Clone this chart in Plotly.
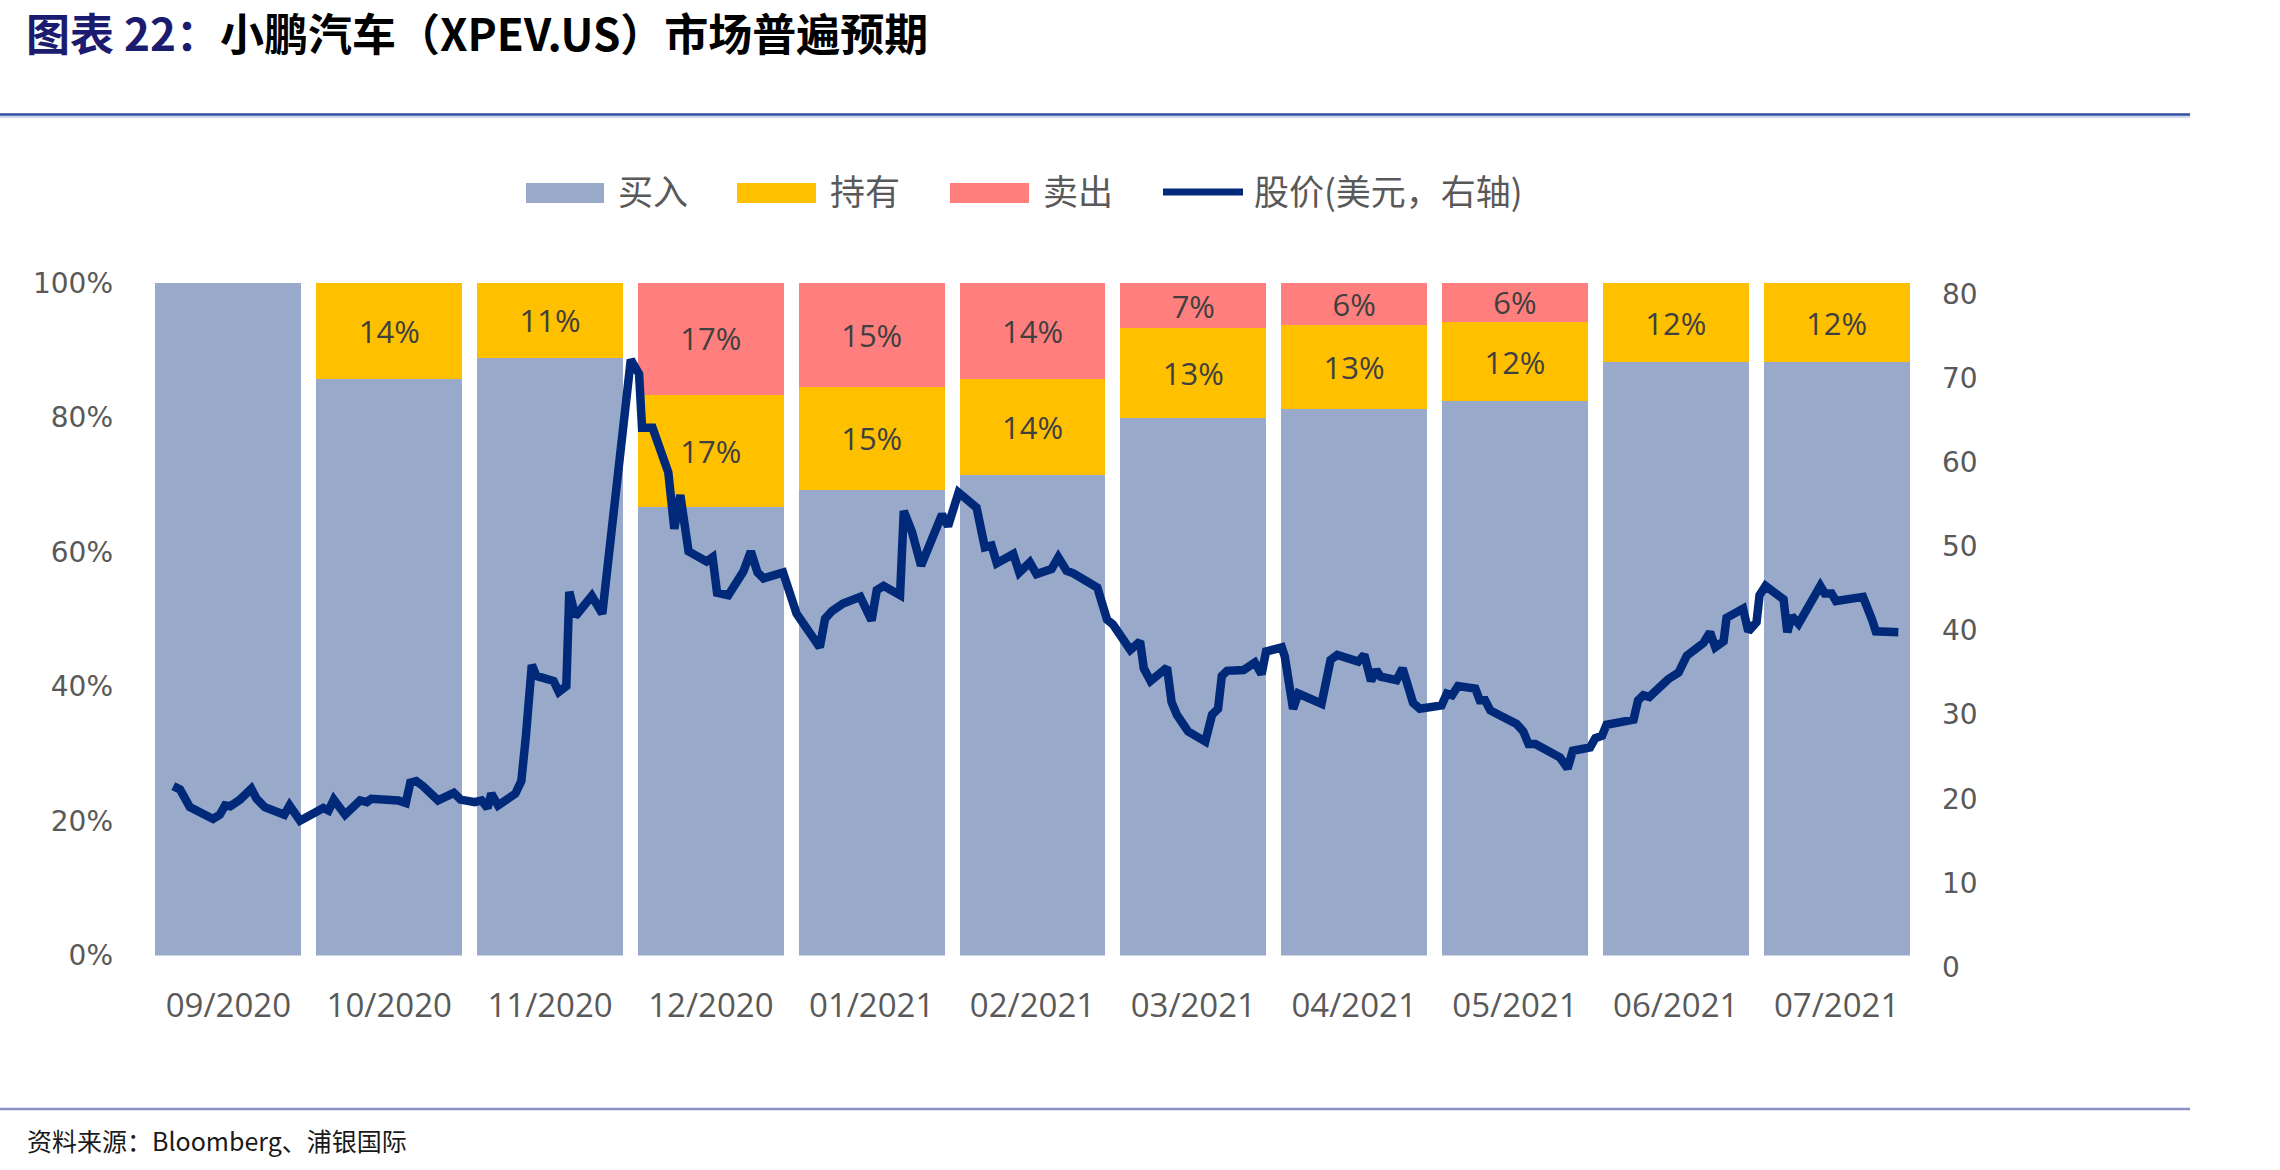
import plotly.graph_objects as go

# ---------------- data ----------------
months = ["09/2020", "10/2020", "11/2020", "12/2020", "01/2021", "02/2021",
          "03/2021", "04/2021", "05/2021", "06/2021", "07/2021"]
buy_pct = [100, 85.7, 88.9, 66.7, 69.2, 71.4, 80.0, 81.25, 82.4, 88.2, 88.2]
hold_pct = [None, 14.3, 11.1, 16.7, 15.4, 14.3, 13.3, 12.5, 11.8, 11.8, 11.8]
sell_pct = [None, None, None, 16.7, 15.4, 14.3, 6.7, 6.25, 5.9, None, None]

trading_day = [0.0, 0.9, 2.2, 3.8, 5.3, 6.2, 6.9, 7.6, 8.9, 10.4, 11.1, 12.2, 14.8, 15.5, 16.9,
               20.0, 20.7, 21.4, 22.9, 24.9, 25.8, 26.4, 28.2, 30.0, 31.0, 31.6, 32.4, 33.3,
               35.3, 37.4, 38.3, 40.2, 41.1, 41.9, 42.4, 43.3, 45.6, 46.4, 47.0, 47.8, 48.4,
               50.7, 51.4, 52.4, 52.8, 53.6, 55.8, 57.2, 61.0, 62.1, 62.5, 63.9, 66.0, 66.8,
               67.6, 68.7, 71.1, 71.9, 72.5, 74.0, 76.0, 77.0, 77.9, 78.7, 81.3, 83.1, 86.2,
               86.9, 87.8, 89.3, 91.6, 93.1, 93.8, 94.7, 96.9, 97.4, 98.5, 99.7, 102.5, 103.3,
               104.7, 107.1, 108.2, 109.1, 109.8, 112.0, 112.8, 114.2, 115.1, 117.1, 118.0,
               119.1, 120.0, 123.2, 124.5, 125.3, 127.6, 128.9, 129.4, 130.3, 132.5, 133.1,
               133.8, 135.3, 137.6, 138.5, 139.3, 139.8, 140.5, 142.7, 144.2, 145.1, 145.7,
               147.8, 148.2, 149.3, 150.0, 153.1, 154.3, 155.2, 158.0, 158.8, 159.7, 160.4,
               161.0, 163.1, 163.9, 164.7, 165.3, 166.2, 169.1, 169.8, 170.5, 171.3, 173.6,
               174.2, 174.9, 175.6, 176.9, 179.1, 180.0, 180.7, 181.6, 184.9, 185.9, 186.6,
               188.9, 189.6, 190.5, 191.1, 194.7, 195.3, 196.0, 196.8, 199.3, 200.7, 201.8,
               204.0, 204.9, 205.6, 206.7, 207.1, 209.3, 210.0, 211.1, 211.5, 212.3, 214.7,
               215.2, 215.8, 216.7, 218.5, 219.6, 220.2, 221.1, 221.7, 225.3, 226.5, 227.0,
               230.0]
price_usd = [21.5, 21.1, 19.0, 18.4, 17.6, 18.1, 19.2, 19.1, 19.9, 21.2, 20.0, 19.0, 18.1, 19.2, 17.4,
             18.9, 18.6, 19.9, 18.1, 19.8, 19.6, 20.0, 20.0, 19.8, 19.5, 21.9, 22.1, 21.5,
             19.8, 20.7, 19.9, 19.6, 19.8, 18.9, 20.6, 19.2, 20.6, 22.1, 27.3, 35.9, 34.6,
             34.0, 32.7, 33.4, 44.6, 41.7, 44.1, 42.0, 72.2, 70.5, 64.1, 64.1, 58.8, 52.1,
             56.1, 49.4, 48.2, 48.7, 44.5, 44.2, 47.0, 49.4, 46.9, 46.2, 46.9, 42.0, 38.0,
             41.4, 42.3, 43.2, 44.0, 41.2, 44.8, 45.3, 44.2, 54.2, 51.7, 47.7, 53.8, 52.4,
             56.4, 54.6, 49.9, 50.1, 48.0, 49.1, 46.9, 48.1, 46.7, 47.3, 48.7,
             47.1, 46.8, 45.1, 41.3, 40.7, 37.7, 38.7, 35.5, 34.0, 35.6, 31.5,
             30.0, 28.0, 26.8, 30.0, 30.7, 34.6, 35.2, 35.3, 36.2, 34.8, 37.5,
             38.0, 36.9, 30.7, 32.5, 31.3, 36.5, 37.1, 36.3, 37.1, 34.0, 35.3,
             34.5, 34.1, 35.5, 32.7, 31.4, 30.7, 31.1, 32.5, 32.3, 33.4, 33.1,
             31.7, 31.7, 30.5, 29.8, 28.9, 28.0, 26.5, 26.5, 24.9, 23.6, 25.7,
             26.1, 27.2, 27.5, 28.8, 29.4, 31.7, 32.3, 32.1, 34.2, 35.0, 37.0,
             38.5, 39.8, 38.0, 38.7, 41.5, 42.6, 39.9, 41.0, 44.2, 45.3, 43.7,
             39.8, 41.7, 40.8, 43.5, 45.3, 44.4, 44.4, 43.5, 44.0, 41.3, 39.9,
             39.8]

title_prefix = "图表 22："
title_main = "小鹏汽车（XPEV.US）市场普遍预期"
source_text = "资料来源：Bloomberg、浦银国际"
legend_names = ["买入", "持有", "卖出", "股价(美元，右轴)"]

# ---------------- styles / layout geometry ----------------
W, H = 2280, 1170
PL, PR = 148, 1917          # plot area left/right (px)
PT, PB = 283, 967           # top of plot, bottom of paper area (px)
Y0_PIX = 955.5              # 0% baseline (px)
Y2_TOP_PIX = 294            # right axis top tick (px)
LINE_X0, LINE_X1 = 173.3, 1898.3  # first/last point horizontal placement (px)

C_BUY, C_HOLD, C_SELL, C_LINE = "#98A9C9", "#FFC000", "#FF7F7F", "#00297A"
GRAY = "#595959"


def fx(p):
    return (p - PL) / (PR - PL)


def fy(p):
    return (PB - p) / (PB - PT)


fig = go.Figure()
label_font = dict(family="Open Sans", size=31, color="#404040")
fig.add_trace(go.Bar(x=months, y=buy_pct, marker=dict(color=C_BUY, line=dict(width=0)),
                     name=legend_names[0], hoverinfo="skip"))
fig.add_trace(go.Bar(x=months, y=hold_pct, marker=dict(color=C_HOLD, line=dict(width=0)),
                     name=legend_names[1], texttemplate="%{y:.0f}%", textposition="inside",
                     insidetextanchor="middle", textfont=label_font, hoverinfo="skip"))
fig.add_trace(go.Bar(x=months, y=sell_pct, marker=dict(color=C_SELL, line=dict(width=0)),
                     name=legend_names[2], texttemplate="%{y:.0f}%", textposition="inside",
                     insidetextanchor="middle", textfont=label_font, hoverinfo="skip"))
fig.add_trace(go.Scatter(x=trading_day, y=price_usd, mode="lines", xaxis="x2", yaxis="y2",
                         line=dict(color=C_LINE, width=8.5), name=legend_names[3],
                         hoverinfo="skip"))

per_px = (trading_day[-1] - trading_day[0]) / (LINE_X1 - LINE_X0)
x2_range = [trading_day[0] - (LINE_X0 - PL) * per_px,
            trading_day[-1] + (PR - LINE_X1) * per_px]

fig.update_layout(
    width=W, height=H,
    margin=dict(l=PL, r=W - PR, t=PT, b=H - PB, pad=0),
    paper_bgcolor="white", plot_bgcolor="rgba(0,0,0,0)",
    barmode="stack", bargap=0.0927,
    showlegend=False,
    uniformtext=dict(minsize=31, mode="show"),
    xaxis=dict(type="category", showgrid=False, zeroline=False, showline=False, ticks="",
               tickfont=dict(family="Open Sans", size=33, color=GRAY),
               ticklabelstandoff=27, anchor="y", domain=[0, 1]),
    yaxis=dict(range=[0, 100], dtick=20, ticksuffix="%", showgrid=False, zeroline=False,
               showline=False, ticks="", domain=[fy(Y0_PIX), 1],
               tickfont=dict(family="DejaVu Sans", size=28, color=GRAY),
               ticklabelstandoff=34),
    xaxis2=dict(overlaying="x", anchor="y2", range=x2_range, visible=False),
    yaxis2=dict(range=[0, 80], dtick=10, side="right", anchor="x", showgrid=False,
                zeroline=False, showline=False, ticks="", domain=[0, fy(Y2_TOP_PIX)],
                tickfont=dict(family="DejaVu Sans", size=28, color=GRAY),
                ticklabelstandoff=24),
)

shapes = []
annotations = []
# header / footer rules
shapes.append(dict(type="line", xref="paper", yref="paper", x0=fx(0), x1=fx(2190),
                   y0=fy(114.5), y1=fy(114.5), line=dict(color="#2E4E9C", width=2.5)))
shapes.append(dict(type="line", xref="paper", yref="paper", x0=fx(0), x1=fx(2190),
                   y0=fy(117), y1=fy(117), line=dict(color="#9FB0DA", width=1)))
shapes.append(dict(type="line", xref="paper", yref="paper", x0=fx(0), x1=fx(2190),
                   y0=fy(1109), y1=fy(1109), line=dict(color="#8C90C6", width=2.5)))

# custom legend
sw = [(526, 604, C_BUY), (737, 816, C_HOLD), (950, 1029, C_SELL)]
text_x = [616, 828, 1041, 1252]
for (a, b, c) in sw:
    shapes.append(dict(type="rect", xref="paper", yref="paper", x0=fx(a), x1=fx(b),
                       y0=fy(203), y1=fy(183), fillcolor=c, line=dict(width=0)))
shapes.append(dict(type="line", xref="paper", yref="paper", x0=fx(1163), x1=fx(1243),
                   y0=fy(192), y1=fy(192), line=dict(color=C_LINE, width=7)))
for name, tx in zip(legend_names, text_x):
    annotations.append(dict(text=name, xref="paper", yref="paper", x=fx(tx), y=fy(190),
                            xanchor="left", yanchor="middle", showarrow=False,
                            font=dict(family="Noto Sans CJK SC", size=35, color=GRAY)))

# title
annotations.append(dict(
    text="<b><span style='color:#1B1B6F'>" + title_prefix + "</span>" + title_main + "</b>",
    xref="paper", yref="paper", x=fx(24), y=fy(32), xanchor="left", yanchor="middle",
    showarrow=False, font=dict(family="Noto Sans CJK SC", size=44, color="#000000")))
# source
annotations.append(dict(text=source_text, xref="paper", yref="paper", x=fx(25), y=fy(1140),
                        xanchor="left", yanchor="middle", showarrow=False,
                        font=dict(family="Noto Sans CJK SC", size=25, color="#1A1A1A")))

fig.update_layout(shapes=shapes, annotations=annotations)
fig.write_html("out.html")
